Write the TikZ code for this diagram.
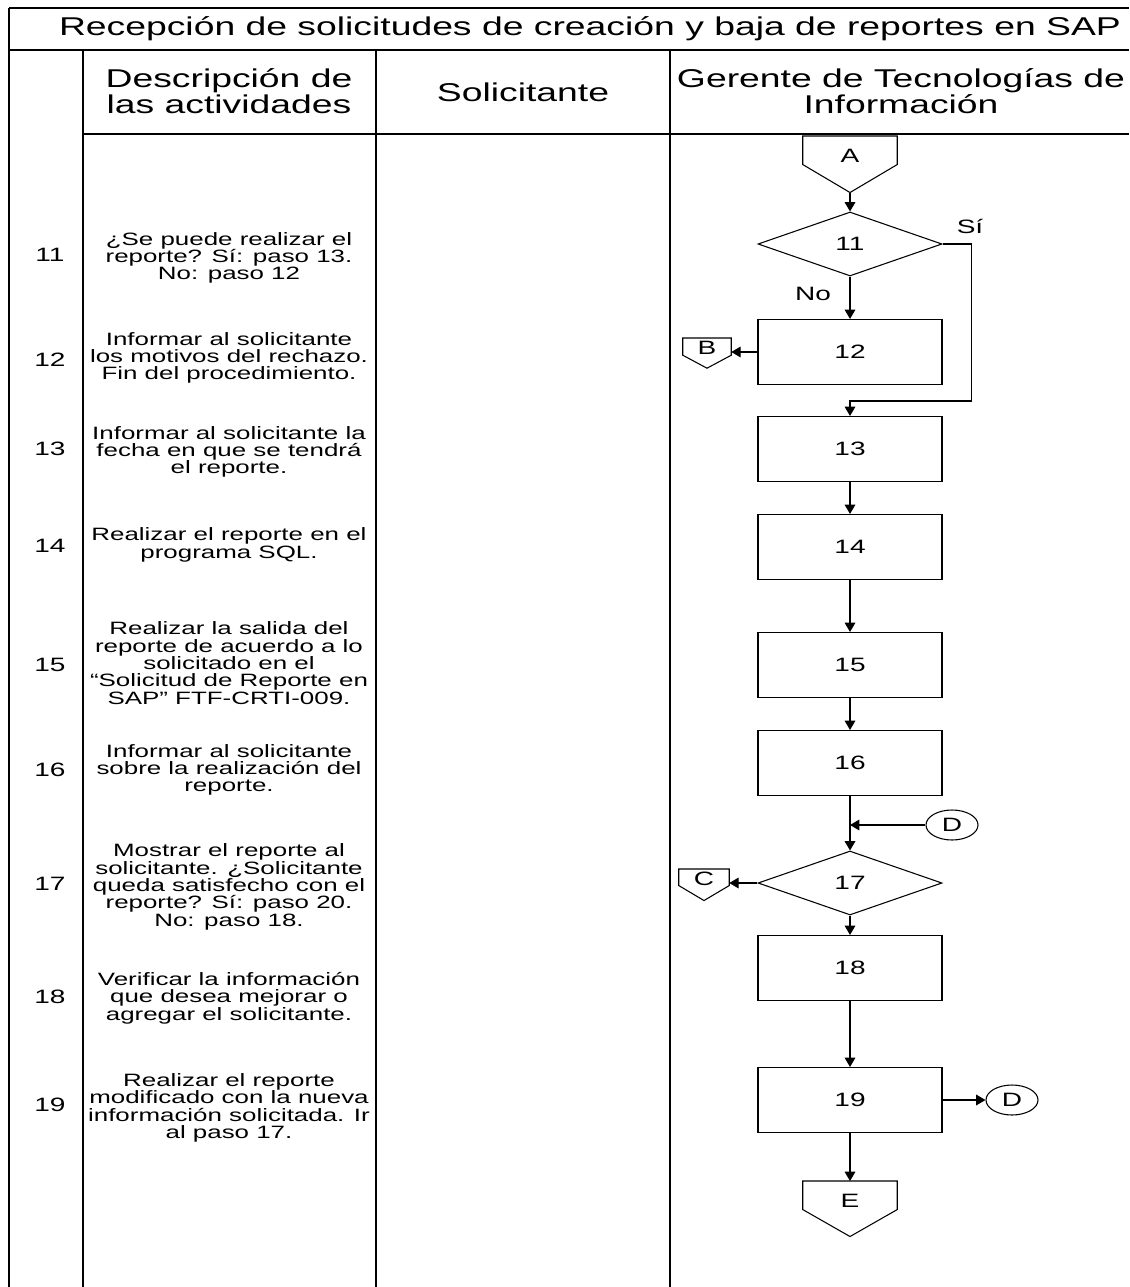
\documentclass[tikz,border=0pt]{standalone}
\usepackage{fontspec}
\setmainfont[FakeStretch=1.45]{Liberation Sans}
\usetikzlibrary{shapes.geometric, arrows.meta, positioning, calc}

\begin{document}
\begin{tikzpicture}[
  x=0.75pt, y=-0.75pt,
  frame/.style={line width=0.9pt},
  lane/.style={line width=1.5pt},
  hdr/.style={align=center, font=\fontsize{19.3}{19.5}\selectfont},
  desc/.style={align=center, inner sep=0pt, font=\fontsize{13.4}{13}\selectfont},
  num/.style={font=\fontsize{14.5}{15}\selectfont},
  box/.style={rectangle, draw, line width=0.8pt, minimum width=138pt,
              minimum height=48.75pt, font=\fontsize{14.5}{15}\selectfont},
  dec/.style={diamond, draw, line width=0.8pt, minimum width=138pt,
              minimum height=48pt, inner sep=0pt, font=\fontsize{14.5}{15}\selectfont},
  offpage/.style={rectangle, inner sep=0pt, anchor=north, font=\fontsize{14.5}{15}\selectfont,
                  append after command={\pgfextra{\draw[line width=0.8pt]
                    (\tikzlastnode.north west) -- (\tikzlastnode.north east)
                    -- (\tikzlastnode.south east) -- ($(\tikzlastnode.south)+(0,#1)$)
                    -- (\tikzlastnode.south west) -- cycle;}}},
  conn/.style={ellipse, draw, line width=0.8pt, inner sep=0pt, minimum width=39pt,
               minimum height=22.5pt, font=\fontsize{14.5}{15}\selectfont},
  arr/.style={-{Triangle[length=7pt, width=8pt]}, line width=0.8pt}
]
  \useasboundingbox (0,0) rectangle (1129,1287);

  % table frame
  \draw[frame] (9,8) -- (1129,8);
  \draw[frame] (9,50) -- (1129,50);
  \draw[frame] (83,134) -- (1129,134);
  \draw[lane] (9,8) -- (9,1287);
  \draw[lane] (83,50) -- (83,1287);
  \draw[lane] (376,50) -- (376,1287);
  \draw[lane] (670,50) -- (670,1287);

  \node[hdr] (title) at (590,29) {Recepción de solicitudes de creación y baja de reportes en SAP};
  \node[hdr] (hdesc) at (229,91) {Descripción de\\las actividades};
  \node[hdr] (hsol)  at (523,92) {Solicitante};
  \node[hdr] (hger)  at (901,91) {Gerente de Tecnologías de\\Información};

  % step numbers
  \node[num] (s11) at (50,255) {11};
  \node[num] (s12) at (50,360) {12};
  \node[num] (s13) at (50,449) {13};
  \node[num] (s14) at (50,546) {14};
  \node[num] (s15) at (50,665) {15};
  \node[num] (s16) at (50,770) {16};
  \node[num] (s17) at (50,884) {17};
  \node[num] (s18) at (50,997) {18};
  \node[num] (s19) at (50,1105) {19};

  % activity descriptions
  \node[desc] (t11) at (229,258) {¿Se puede realizar el\\reporte? Sí: paso 13.\\No: paso 12};
  \node[desc] (t12) at (229,358) {Informar al solicitante\\los motivos del rechazo.\\Fin del procedimiento.};
  \node[desc] (t13) at (229,452) {Informar al solicitante la\\fecha en que se tendrá\\el reporte.};
  \node[desc] (t14) at (229,545) {Realizar el reporte en el\\programa SQL.};
  \node[desc] (t15) at (229,663) {Realizar la salida del\\reporte de acuerdo a lo\\solicitado en el\\“Solicitud de Reporte en\\SAP” FTF-CRTI-009.};
  \node[desc] (t16) at (229,770) {Informar al solicitante\\sobre la realización del\\reporte.};
  \node[desc] (t17) at (229,887) {Mostrar el reporte al\\solicitante. ¿Solicitante\\queda satisfecho con el\\reporte? Sí: paso 20.\\No: paso 18.};
  \node[desc] (t18) at (229,998) {Verificar la información\\que desea mejorar o\\agregar el solicitante.};
  \node[desc] (t19) at (229,1108) {Realizar el reporte\\modificado con la nueva\\información solicitada. Ir\\al paso 17.};

  % flow
  \node[offpage=28, minimum width=70.5pt, minimum height=21pt, text height=18pt, text depth=0pt] (A) at (850,136) {A};
  \coordinate (Atip) at ($(A.south)+(0,28)$);
  \node[dec] (d11) at (850,244) {11};
  \node[box] (b12) at (850,352) {12};
  \node[offpage=13, minimum width=36pt, minimum height=11.25pt, text height=12.5pt, text depth=0pt] (B) at (707,338) {B};
  \node[box] (b13) at (850,449) {13};
  \node[box] (b14) at (850,547) {14};
  \node[box] (b15) at (850,665) {15};
  \node[box] (b16) at (850,763) {16};
  \node[conn] (D1) at (952,825) {D};
  \node[dec] (d17) at (850,883) {17};
  \node[offpage=15, minimum width=37.5pt, minimum height=10.5pt, text height=12pt, text depth=0pt] (C) at (704,869) {C};
  \node[box] (b18) at (850,968) {18};
  \node[box] (b19) at (850,1100) {19};
  \node[conn] (D2) at (1012,1100) {D};
  \node[offpage=27, minimum width=70.5pt, minimum height=21pt, text height=18pt, text depth=0pt] (E) at (850,1181) {E};

  \node[num] (si) at (970,226) {Sí};
  \node[num] (no) at (813,294) {No};

  \draw[arr] (Atip) -- (d11.north);
  \draw[arr] (d11.south) -- (b12.north);
  \draw[arr] (b12.west) -- (b12.west -| B.east);
  \draw[arr] (d11.east) -- ++(29,0) |- ($(b13.north)+(0,-15)$) -- (b13.north);
  \draw[arr] (b13) -- (b14);
  \draw[arr] (b14) -- (b15);
  \draw[arr] (b15) -- (b16);
  \draw[arr] (b16) -- (d17);
  \draw[arr] (D1.west) -- (D1.west -| b16.south);
  \draw[arr] (d17.west) -- (d17.west -| C.east);
  \draw[arr] (d17) -- (b18);
  \draw[arr] (b18) -- (b19);
  \draw[arr] (b19.east) -- (D2.west);
  \draw[arr] (b19.south) -- (E.north);
\end{tikzpicture}
\end{document}
